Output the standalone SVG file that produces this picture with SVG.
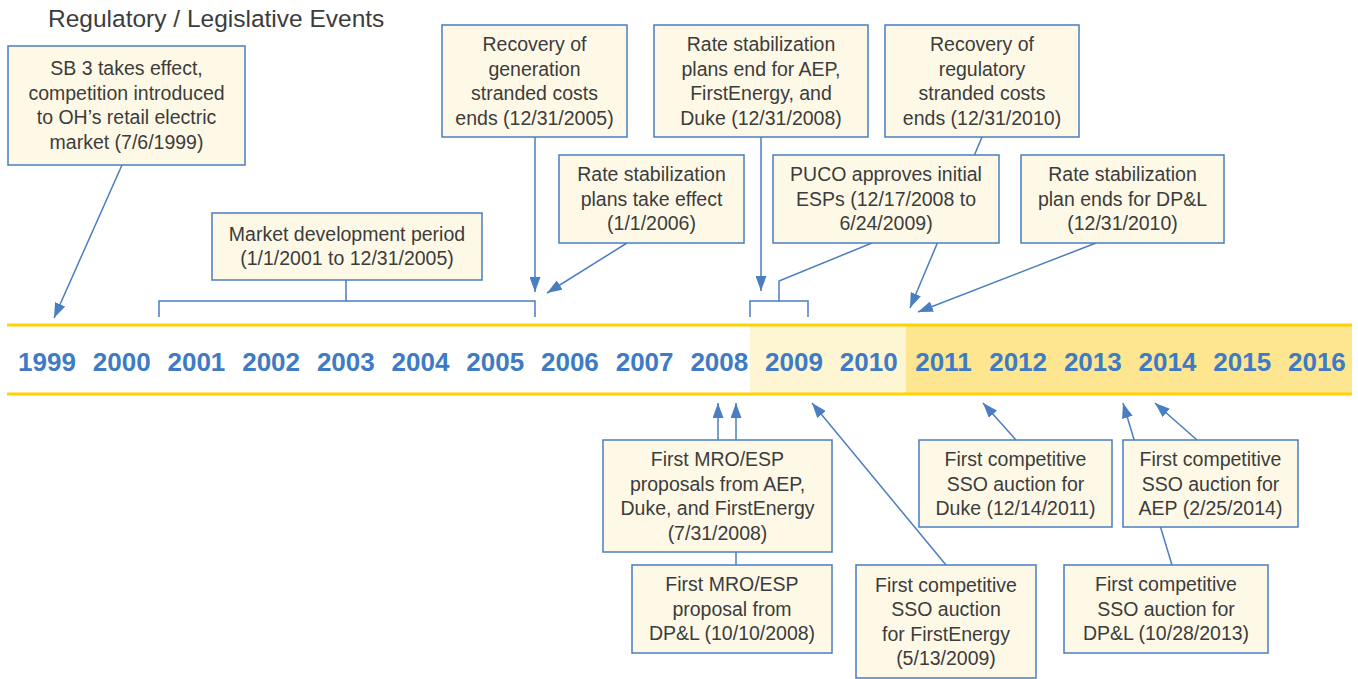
<svg xmlns="http://www.w3.org/2000/svg" width="1358" height="679" viewBox="0 0 1358 679">
<defs>
<style>
.box{fill:#FEF9E7;stroke:#4A7EC0;stroke-width:1.5}
.t{font-family:"Liberation Sans",Arial,sans-serif;font-size:19.5px;fill:#3c3c3c;text-anchor:middle}
.yr{font-family:"Liberation Sans",Arial,sans-serif;font-size:26px;font-weight:bold;fill:#3E7BC4;text-anchor:middle}
.ln{fill:none;stroke:#4A7EC0;stroke-width:1.5}
.ar{fill:none;stroke:#4A7EC0;stroke-width:1.5;marker-end:url(#ah)}
</style>
<marker id="ah" markerUnits="userSpaceOnUse" markerWidth="15" markerHeight="11" refX="15" refY="5.5" orient="auto">
<path d="M0,0 L15,5.5 L0,11 z" fill="#4A7EC0"/>
</marker>
</defs>
<rect width="1358" height="679" fill="#ffffff"/>
<text x="48" y="27" style="font-family:'Liberation Sans',Arial,sans-serif;font-size:24.5px;fill:#3c3c3c">Regulatory / Legislative Events</text>

<g id="timeline">
<rect x="750" y="325" width="156" height="69" fill="#FEF5D3"/>
<rect x="906" y="325" width="446" height="69" fill="#FDE68F"/>
<line x1="7" y1="325" x2="1352" y2="325" stroke="#FFD200" stroke-width="3"/>
<line x1="7" y1="394" x2="1352" y2="394" stroke="#FFD200" stroke-width="3"/>
<text class="yr" x="47" y="371">1999</text>
<text class="yr" x="121.7" y="371">2000</text>
<text class="yr" x="196.4" y="371">2001</text>
<text class="yr" x="271.1" y="371">2002</text>
<text class="yr" x="345.8" y="371">2003</text>
<text class="yr" x="420.5" y="371">2004</text>
<text class="yr" x="495.2" y="371">2005</text>
<text class="yr" x="569.9" y="371">2006</text>
<text class="yr" x="644.6" y="371">2007</text>
<text class="yr" x="719.3" y="371">2008</text>
<text class="yr" x="794" y="371">2009</text>
<text class="yr" x="868.7" y="371">2010</text>
<text class="yr" x="943.4" y="371">2011</text>
<text class="yr" x="1018.1" y="371">2012</text>
<text class="yr" x="1092.8" y="371">2013</text>
<text class="yr" x="1167.5" y="371">2014</text>
<text class="yr" x="1242.2" y="371">2015</text>
<text class="yr" x="1316.9" y="371">2016</text>
</g>

<g id="connectors">
<line class="ar" x1="122" y1="165" x2="54" y2="318"/>
<path class="ln" d="M346,280 V301 M159,317 V301 H535 V317"/>
<line class="ar" x1="535" y1="137" x2="535" y2="292"/>
<line class="ar" x1="627" y1="243" x2="547" y2="293"/>
<line class="ar" x1="761" y1="137" x2="761" y2="291"/>
<path class="ln" d="M872,243 L779,281 V301 M750,317 V301 H808 V317"/>
<line class="ar" x1="982" y1="137" x2="910" y2="308"/>
<line class="ar" x1="1096" y1="243" x2="918" y2="312"/>
<line class="ar" x1="718" y1="440" x2="718" y2="403"/>
<line class="ar" x1="736" y1="440" x2="736" y2="403"/>
<line class="ln" x1="736" y1="552" x2="736" y2="565"/>
<line class="ar" x1="946" y1="565" x2="812" y2="403"/>
<line class="ar" x1="1016" y1="440" x2="983" y2="403"/>
<line class="ar" x1="1197" y1="440" x2="1155" y2="403"/>
<line class="ar" x1="1172" y1="565" x2="1123" y2="403"/>
</g>

<g id="n-sb3">
<rect class="box" x="8" y="46" width="237" height="119"/>
<text class="t" x="126.5" y="75.25">SB 3 takes effect,</text>
<text class="t" x="126.5" y="99.75">competition introduced</text>
<text class="t" x="126.5" y="124.25">to OH’s retail electric</text>
<text class="t" x="126.5" y="148.75">market (7/6/1999)</text>
</g>
<g id="n-market">
<rect class="box" x="212" y="213" width="270" height="67"/>
<text class="t" x="347" y="240.75">Market development period</text>
<text class="t" x="347" y="265.25">(1/1/2001 to 12/31/2005)</text>
</g>
<g id="n-recgen">
<rect class="box" x="442" y="25" width="185" height="112"/>
<text class="t" x="534.5" y="51">Recovery of</text>
<text class="t" x="534.5" y="75.5">generation</text>
<text class="t" x="534.5" y="100">stranded costs</text>
<text class="t" x="534.5" y="124.5">ends (12/31/2005)</text>
</g>
<g id="n-rsp-effect">
<rect class="box" x="559" y="155" width="185" height="88"/>
<text class="t" x="651.5" y="181">Rate stabilization</text>
<text class="t" x="651.5" y="205.5">plans take effect</text>
<text class="t" x="651.5" y="230">(1/1/2006)</text>
</g>
<g id="n-rsp-end-aep">
<rect class="box" x="654" y="25" width="214" height="112"/>
<text class="t" x="761" y="51">Rate stabilization</text>
<text class="t" x="761" y="75.5">plans end for AEP,</text>
<text class="t" x="761" y="100">FirstEnergy, and</text>
<text class="t" x="761" y="124.5">Duke (12/31/2008)</text>
</g>
<g id="n-recreg">
<rect class="box" x="885" y="25" width="194" height="112"/>
<text class="t" x="982" y="51">Recovery of</text>
<text class="t" x="982" y="75.5">regulatory</text>
<text class="t" x="982" y="100">stranded costs</text>
<text class="t" x="982" y="124.5">ends (12/31/2010)</text>
</g>
<g id="n-puco">
<rect class="box" x="773" y="155" width="226" height="88"/>
<text class="t" x="886" y="181">PUCO approves initial</text>
<text class="t" x="886" y="205.5">ESPs (12/17/2008 to</text>
<text class="t" x="886" y="230">6/24/2009)</text>
</g>
<g id="n-rsp-end-dpl">
<rect class="box" x="1021" y="155" width="203" height="88"/>
<text class="t" x="1122.5" y="181">Rate stabilization</text>
<text class="t" x="1122.5" y="205.5">plan ends for DP&amp;L</text>
<text class="t" x="1122.5" y="230">(12/31/2010)</text>
</g>
<g id="n-mro">
<rect class="box" x="603" y="440" width="229" height="112"/>
<text class="t" x="717.5" y="466">First MRO/ESP</text>
<text class="t" x="717.5" y="490.5">proposals from AEP,</text>
<text class="t" x="717.5" y="515">Duke, and FirstEnergy</text>
<text class="t" x="717.5" y="539.5">(7/31/2008)</text>
</g>
<g id="n-mro-dpl">
<rect class="box" x="632" y="565" width="200" height="88"/>
<text class="t" x="732" y="591">First MRO/ESP</text>
<text class="t" x="732" y="615.5">proposal from</text>
<text class="t" x="732" y="640">DP&amp;L (10/10/2008)</text>
</g>
<g id="n-sso-fe">
<rect class="box" x="856" y="565" width="180" height="113"/>
<text class="t" x="946" y="591.5">First competitive</text>
<text class="t" x="946" y="616">SSO auction</text>
<text class="t" x="946" y="640.5">for FirstEnergy</text>
<text class="t" x="946" y="665">(5/13/2009)</text>
</g>
<g id="n-sso-duke">
<rect class="box" x="919" y="440" width="193" height="87"/>
<text class="t" x="1015.5" y="466">First competitive</text>
<text class="t" x="1015.5" y="490.5">SSO auction for</text>
<text class="t" x="1015.5" y="515">Duke (12/14/2011)</text>
</g>
<g id="n-sso-aep">
<rect class="box" x="1123" y="440" width="175" height="87"/>
<text class="t" x="1210.5" y="466">First competitive</text>
<text class="t" x="1210.5" y="490.5">SSO auction for</text>
<text class="t" x="1210.5" y="515">AEP (2/25/2014)</text>
</g>
<g id="n-sso-dpl">
<rect class="box" x="1064" y="565" width="204" height="88"/>
<text class="t" x="1166" y="591">First competitive</text>
<text class="t" x="1166" y="615.5">SSO auction for</text>
<text class="t" x="1166" y="640">DP&amp;L (10/28/2013)</text>
</g>
</svg>
